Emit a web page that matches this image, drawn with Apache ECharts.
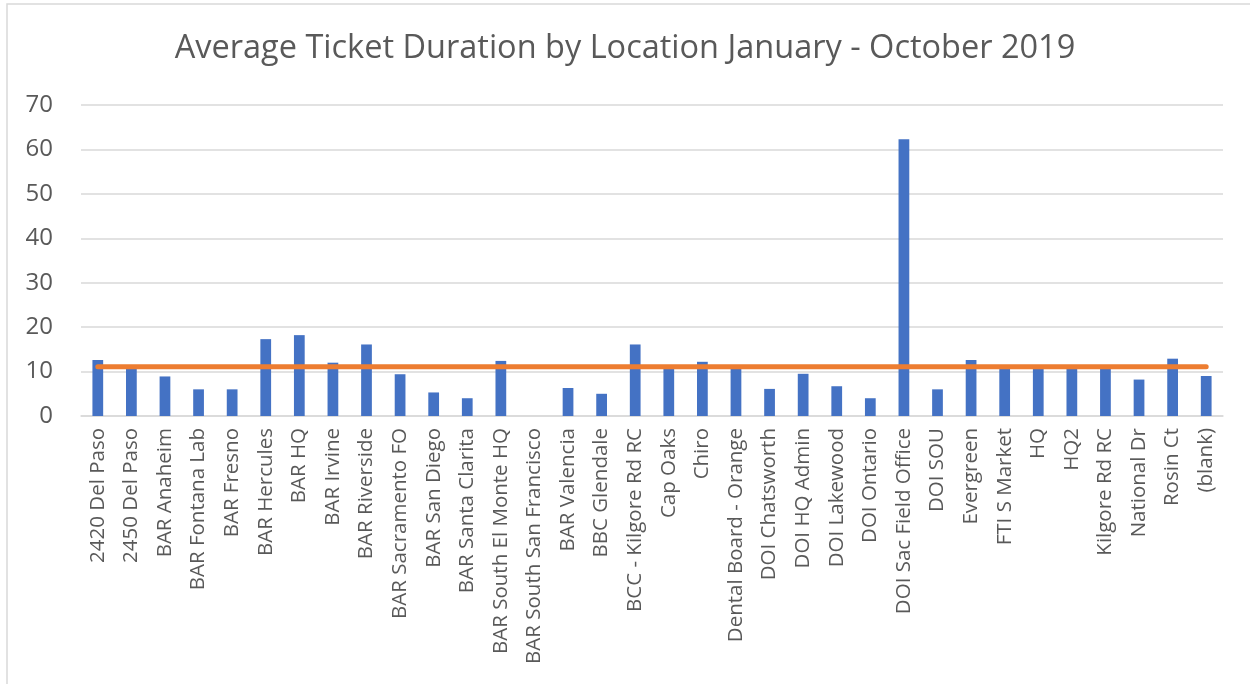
<!DOCTYPE html>
<html><head><meta charset="utf-8">
<script src="https://cdn.jsdelivr.net/npm/echarts@6/dist/echarts.min.js"></script>
<style>html,body{margin:0;padding:0;background:#fff}#c{width:1250px;height:684px}</style>
</head><body><div id="c"></div>
<script>
const categories = ["2420 Del Paso","2450 Del Paso","BAR Anaheim","BAR Fontana Lab","BAR Fresno","BAR Hercules","BAR HQ","BAR Irvine","BAR Riverside","BAR Sacramento FO","BAR San Diego","BAR Santa Clarita","BAR South El Monte HQ","BAR South San Francisco","BAR Valencia","BBC Glendale","BCC - Kilgore Rd RC","Cap Oaks","Chiro","Dental Board - Orange","DOI Chatsworth","DOI HQ Admin","DOI Lakewood","DOI Ontario","DOI Sac Field Office","DOI SOU","Evergreen","FTI S Market","HQ","HQ2","Kilgore Rd RC","National Dr","Rosin Ct","(blank)"];
const durations = [12.6,11.0,8.9,6.0,6.0,17.3,18.2,12.0,16.1,9.4,5.3,4.0,12.4,0,6.3,5.0,16.1,11.0,12.2,11.0,6.1,9.5,6.7,4.0,62.3,6.0,12.6,11.0,11.0,11.0,11.0,8.2,12.9,9.0];
const averageValue = [11.1,11.1,11.1,11.1,11.1,11.1,11.1,11.1,11.1,11.1,11.1,11.1,11.1,11.1,11.1,11.1,11.1,11.1,11.1,11.1,11.1,11.1,11.1,11.1,11.1,11.1,11.1,11.1,11.1,11.1,11.1,11.1,11.1,11.1];
const yTicks = {min:0, max:70, interval:10};

const chart = echarts.init(document.getElementById('c'));
const font = 'Open Sans';
chart.setOption({
  animation:false,
  backgroundColor:'#fff',
  graphic:[{type:'rect',shape:{x:7,y:4,width:1250,height:690},style:{fill:'none',stroke:'#d9d9d9',lineWidth:1.5},silent:true}],
  title:{text:'Average Ticket Duration by Location January - October 2019',left:'center',top:27,
    textStyle:{fontFamily:font,fontSize:32.5,fontWeight:'normal',color:'#595959'}},
  grid:{left:81,right:27,top:105,bottom:268,containLabel:false},
  xAxis:{type:'category',data:categories,
    axisLine:{show:true,lineStyle:{color:'#d9d9d9',width:1.5}},
    axisTick:{show:false},
    axisLabel:{rotate:90,interval:0,margin:12,fontFamily:font,fontSize:20.5,color:'#595959'}},
  yAxis:{type:'value',min:yTicks.min,max:yTicks.max,interval:yTicks.interval,
    axisLine:{show:false},axisTick:{show:false},
    splitLine:{lineStyle:{color:'#d9d9d9',width:1.5}},
    axisLabel:{margin:28,fontFamily:font,fontSize:24,color:'#595959'}},
  series:[
    {type:'bar',data:durations,barWidth:'32%',itemStyle:{color:'#4472C4',borderWidth:0}},
    {type:'line',data:averageValue,symbol:'none',lineStyle:{color:'#ED7D31',width:5,cap:'round'},z:5}
  ]
});
</script></body></html>
